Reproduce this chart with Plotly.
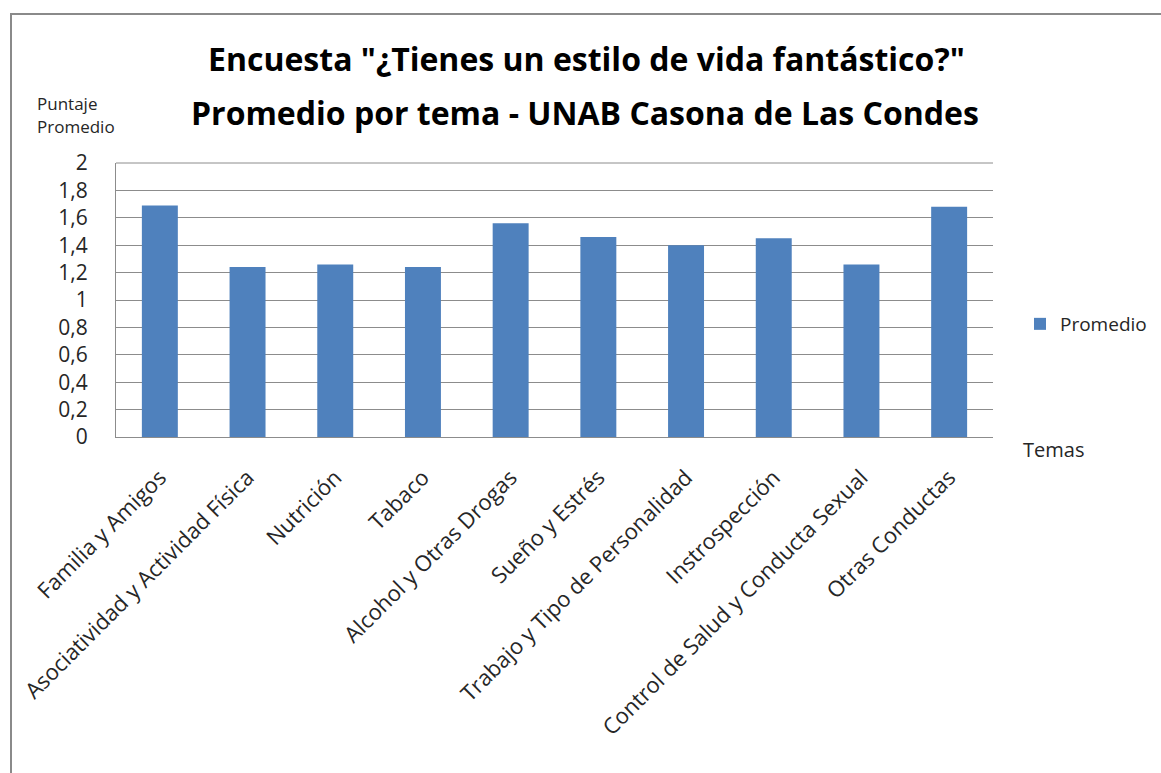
import plotly.graph_objects as go

temas = [
    "Familia y Amigos",
    "Asociatividad y Actividad Física",
    "Nutrición",
    "Tabaco",
    "Alcohol y Otras Drogas",
    "Sueño y Estrés",
    "Trabajo y Tipo de Personalidad",
    "Instrospección",
    "Control de Salud y Conducta Sexual",
    "Otras Conductas",
]
promedio = [1.69, 1.24, 1.26, 1.24, 1.56, 1.46, 1.40, 1.45, 1.26, 1.68]
y_ticks = [0, 0.2, 0.4, 0.6, 0.8, 1, 1.2, 1.4, 1.6, 1.8, 2]
y_tick_labels = ["0", "0,2", "0,4", "0,6", "0,8", "1", "1,2", "1,4", "1,6", "1,8", "2"]

W, H = 1161, 773
L, R, T, B = 116, 993, 163, 437  # plot area in pixels

def px(x):
    return (x - L) / (R - L)

def py(y):
    return (B - y) / (B - T)

FONT = "Open Sans"
TXT = "#262626"

fig = go.Figure()
fig.add_trace(go.Bar(
    x=temas, y=promedio, name="Promedio",
    marker=dict(color="#4F81BD", line=dict(width=0)),
    width=0.41,
))

fig.update_layout(
    width=W, height=H,
    margin=dict(l=L, r=W - R, t=T, b=H - B, pad=0, autoexpand=False),
    paper_bgcolor="white", plot_bgcolor="white",
    font=dict(family=FONT, color=TXT),
    showlegend=True,
    legend=dict(
        xref="container", yref="container",
        x=1020 / W, y=1 - 324 / H, xanchor="left", yanchor="middle",
        font=dict(size=19, family=FONT, color=TXT),
        bgcolor="rgba(0,0,0,0)", itemwidth=30, borderwidth=0,
    ),
    xaxis=dict(
        tickangle=-45, tickfont=dict(size=22, family=FONT, color=TXT),
        showline=True, linecolor="#8c8c8c", linewidth=1,
        showgrid=False, ticks="", ticklen=0, ticklabelstandoff=18,
        automargin=False,
    ),
    yaxis=dict(
        range=[0, 2], tickvals=y_ticks, ticktext=y_tick_labels,
        tickfont=dict(size=21, family=FONT, color=TXT),
        showgrid=True, gridcolor="#8c8c8c", gridwidth=1,
        showline=True, linecolor="#8c8c8c", linewidth=1,
        zeroline=False, ticks="", ticklabelstandoff=23,
        automargin=False,
    ),
)

# Top border of the plot area
fig.add_shape(type="line", xref="paper", yref="paper", x0=0, x1=1, y0=1, y1=1,
              line=dict(color="#8c8c8c", width=1))

# Outer chart frame
fig.add_shape(type="rect", xref="paper", yref="paper",
              x0=px(11), x1=px(1175), y0=py(14), y1=py(790),
              line=dict(color="#8a8a8a", width=2), layer="below")

titles = [
    ('<b>Encuesta "¿Tienes un estilo de vida fantástico?"</b>', 586, 58),
    ("<b>Promedio por tema - UNAB Casona de Las Condes</b>", 585, 113),
]
for text, x, y in titles:
    fig.add_annotation(text=text, x=px(x), y=py(y), xref="paper", yref="paper",
                       showarrow=False, xanchor="center", yanchor="middle",
                       font=dict(size=32, family=FONT, color="#000000"))

fig.add_annotation(text="Puntaje", x=px(35), y=py(103), xref="paper", yref="paper",
                   showarrow=False, xanchor="left", yanchor="middle",
                   font=dict(size=17, family=FONT, color=TXT))
fig.add_annotation(text="Promedio", x=px(35), y=py(126), xref="paper", yref="paper",
                   showarrow=False, xanchor="left", yanchor="middle",
                   font=dict(size=17, family=FONT, color=TXT))
fig.add_annotation(text="Temas", x=px(1021), y=py(450), xref="paper", yref="paper",
                   showarrow=False, xanchor="left", yanchor="middle",
                   font=dict(size=20, family=FONT, color=TXT))

fig.write_html("out.html")
